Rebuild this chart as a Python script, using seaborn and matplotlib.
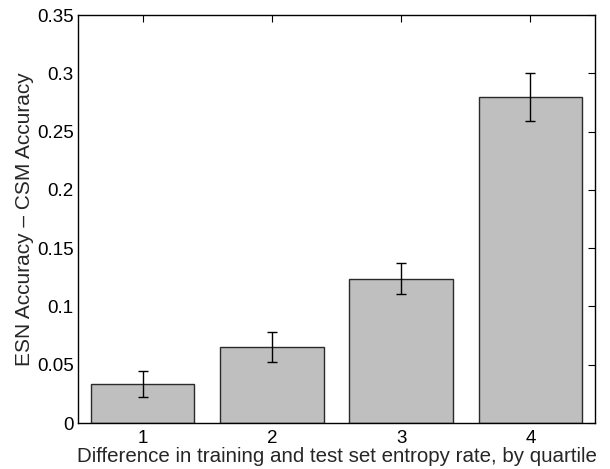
import matplotlib
matplotlib.use("Agg")
import matplotlib.pyplot as plt
import seaborn as sns
import pandas as pd
import numpy as np

categories = ["1", "2", "3", "4"]
values = [0.0337, 0.0652, 0.1238, 0.2794]
errors = [0.0113, 0.0130, 0.0133, 0.0206]
yticks = [0, 0.05, 0.1, 0.15, 0.2, 0.25, 0.3, 0.35]
ytick_labels = ["0", "0.05", "0.1", "0.15", "0.2", "0.25", "0.3", "0.35"]

sns.set_theme(style="white")
plt.rcParams['font.family'] = ['Liberation Sans', 'DejaVu Sans']

df = pd.DataFrame({"quartile": categories, "diff": values})

fig = plt.figure(figsize=(6.1, 4.69), dpi=100)
ax = fig.add_axes([78/610, 1-423/469, (595-78)/610, (423-15)/469])

sns.barplot(data=df, x="quartile", y="diff", color="#bfbfbf", saturation=1,
            edgecolor="#2a2a2a", linewidth=1.0, width=0.8, errorbar=None, ax=ax)
ax.errorbar(np.arange(len(categories)), values, yerr=errors, fmt="none",
            ecolor="black", elinewidth=1.0, capsize=3.8, capthick=1.0)

ax.set_xlim(-0.5, 3.5)
ax.set_ylim(0, 0.35)
ax.set_yticks(yticks)
ax.set_yticklabels(ytick_labels)
ax.set_xlabel("Difference in training and test set entropy rate, by quartile", fontsize=14.8, labelpad=0)
ax.set_ylabel("ESN Accuracy – CSM Accuracy", fontsize=15, labelpad=2)
ax.tick_params(axis="both", direction="in", length=5, width=0.8, labelsize=13.5,
               top=True, right=True, color="black", pad=3, labelcolor="black")
ax.tick_params(axis="x", pad=5)
for s in ax.spines.values():
    s.set_visible(True)
    s.set_color("black")
    s.set_linewidth(1.0)
ax.grid(False)

fig.savefig("out.png", dpi=100)
